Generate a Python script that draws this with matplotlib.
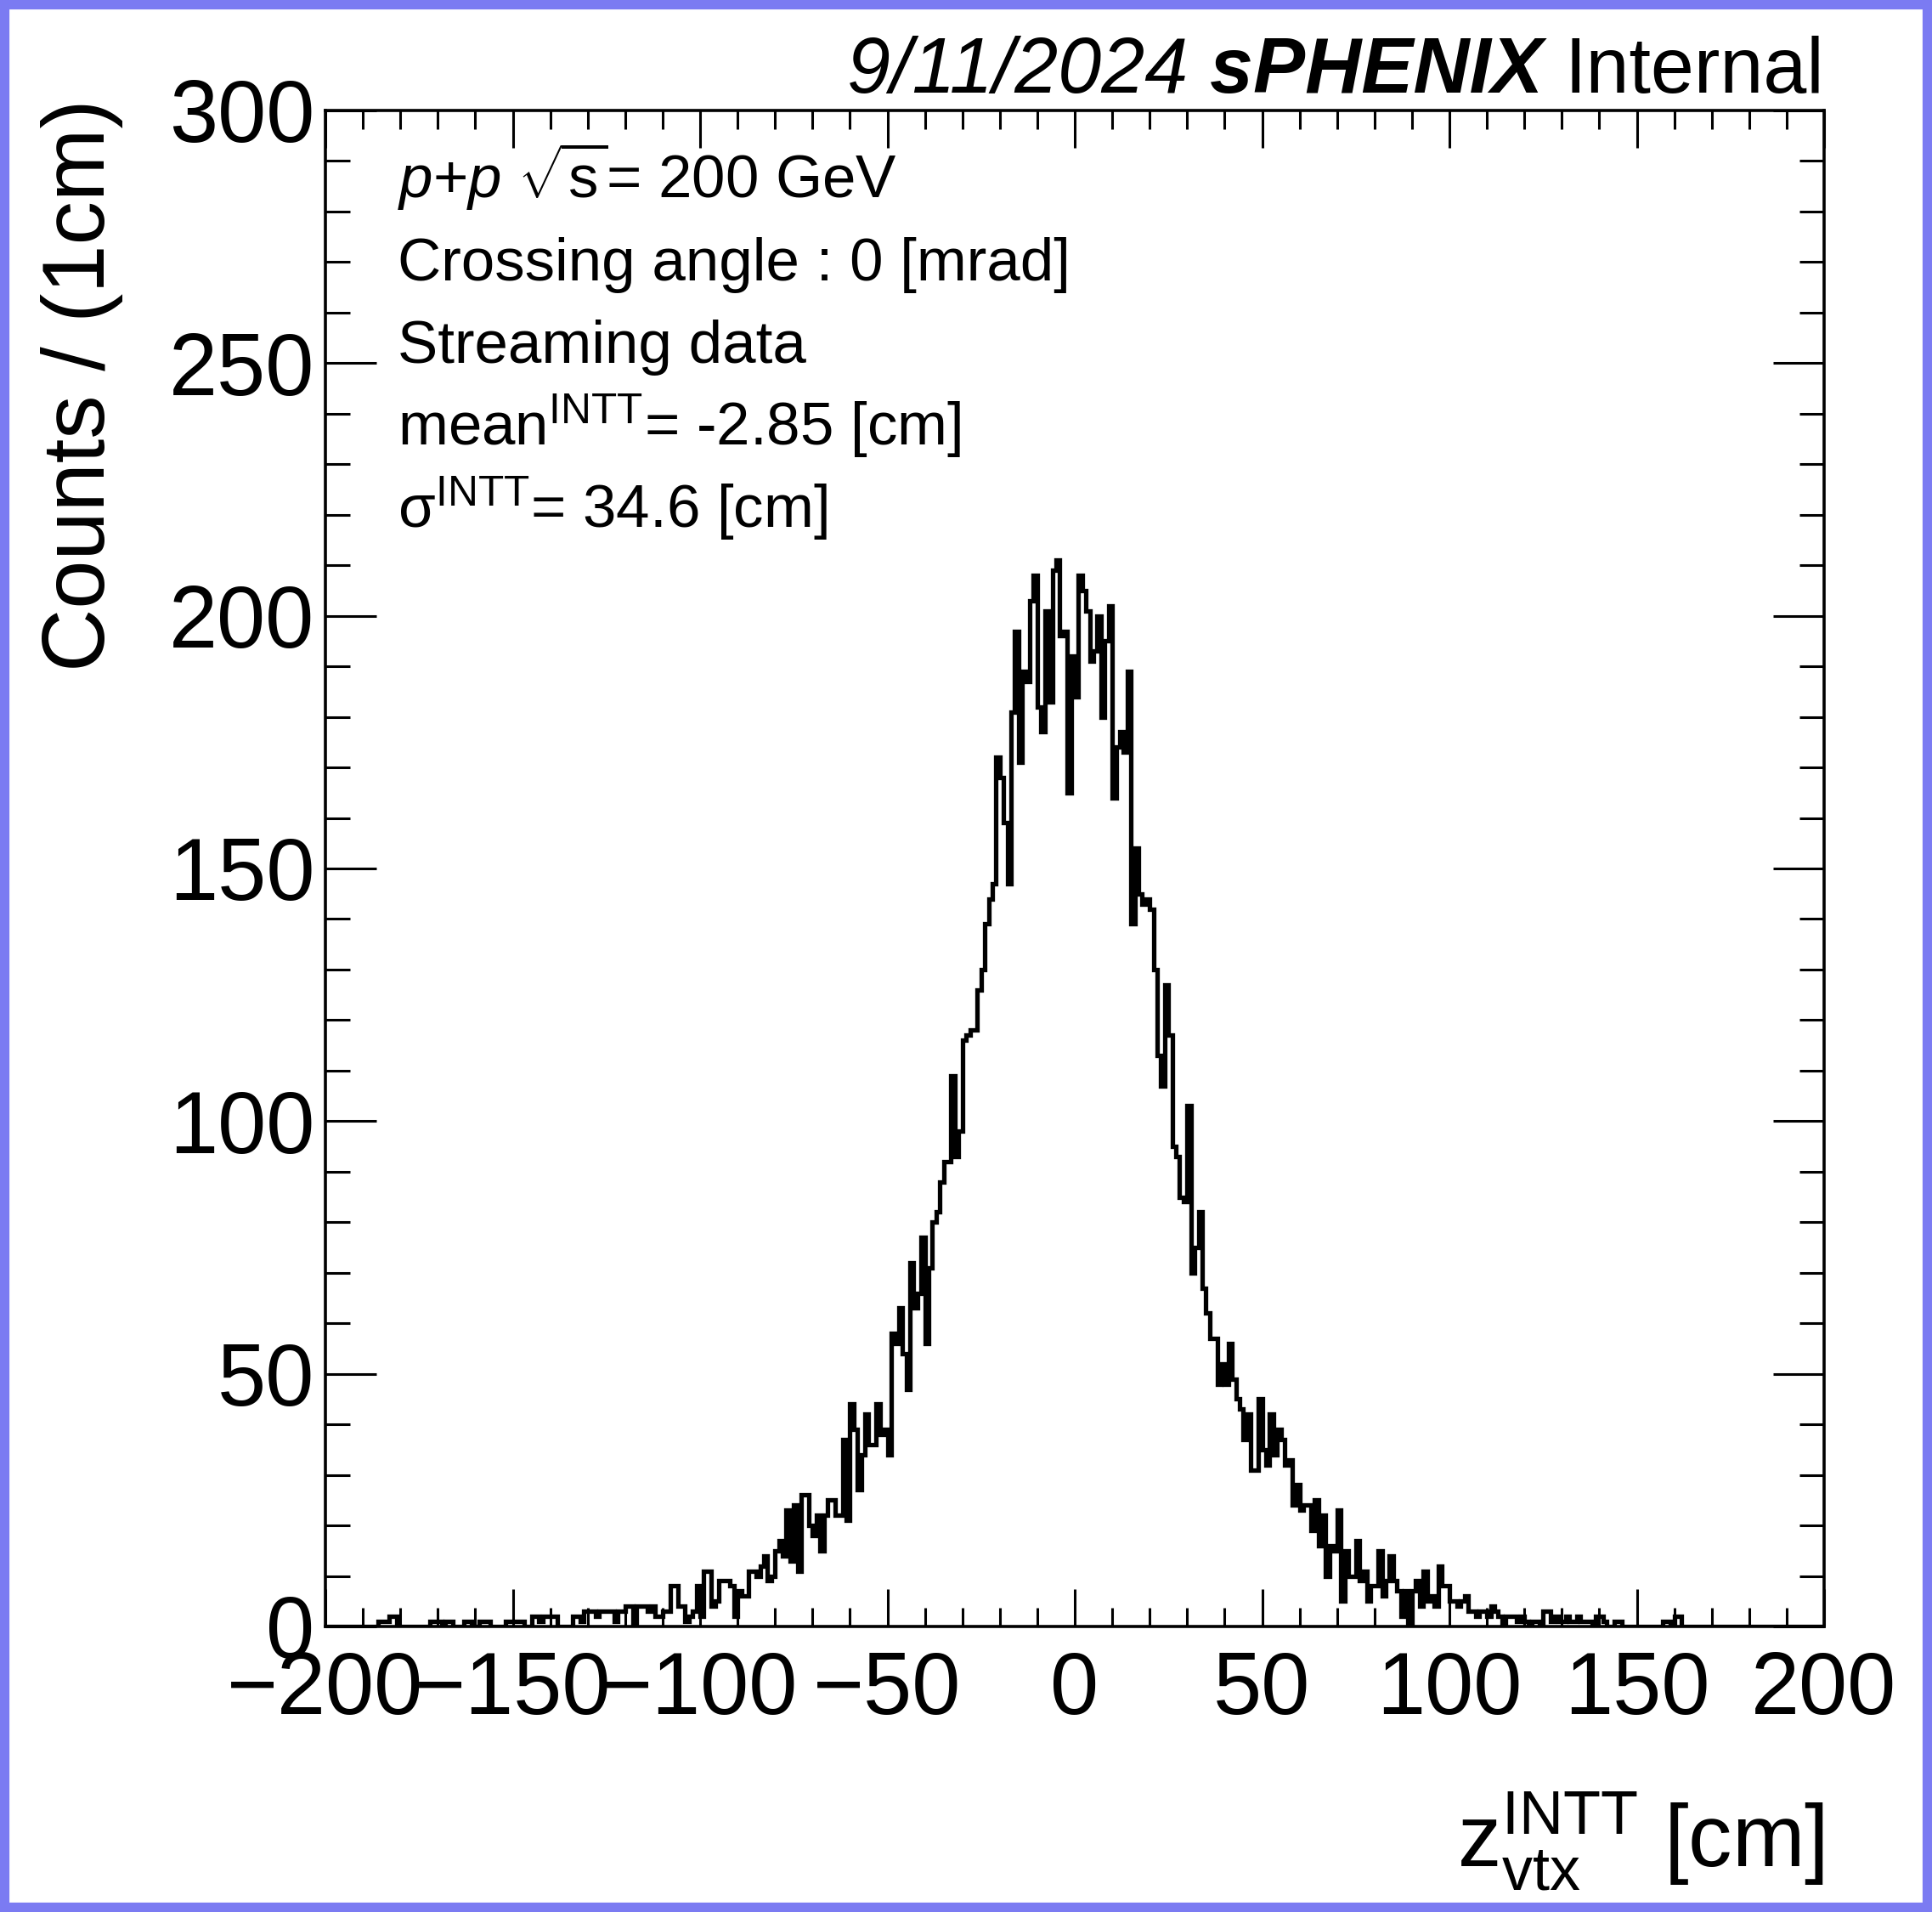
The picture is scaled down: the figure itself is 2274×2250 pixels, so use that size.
import numpy as np
import matplotlib
matplotlib.use("Agg")
import matplotlib.pyplot as plt
from matplotlib.patches import Rectangle
from matplotlib.ticker import MultipleLocator

# INTT z-vertex distribution, 1 cm bins from -200 to 200 cm
# counts, split in 50 cm chunks
counts_m200 = [0, 0, 0, 0, 0, 0, 0, 0, 0, 0,
               0, 0, 0, 0, 1, 1, 1, 2, 2, 0,
               0, 0, 0, 0, 0, 0, 0, 0, 1, 1,
               1, 0, 1, 1, 0, 0, 0, 1, 1, 0,
               0, 1, 1, 1, 0, 0, 0, 0, 1, 1]
counts_m150 = [1, 1, 1, 0, 0, 2, 2, 1, 2, 2,
               2, 2, 0, 0, 0, 0, 2, 2, 1, 3,
               3, 3, 2, 3, 3, 3, 3, 1, 3, 3,
               4, 4, 0, 4, 4, 4, 3, 4, 2, 2,
               3, 3, 8, 8, 4, 4, 1, 2, 3, 8]
counts_m100 = [2, 11, 11, 4, 5, 9, 9, 9, 8, 2,
               7, 6, 6, 11, 11, 10, 12, 14, 9, 10,
               15, 17, 14, 23, 13, 24, 11, 26, 26, 20,
               18, 22, 15, 22, 25, 25, 22, 22, 37, 21,
               44, 39, 27, 34, 42, 36, 36, 44, 38, 39]
counts_m50 = [34, 58, 56, 63, 54, 47, 72, 63, 66, 77,
              56, 71, 80, 82, 88, 92, 92, 109, 93, 98,
              116, 117, 118, 118, 126, 130, 139, 144, 147, 172,
              168, 159, 147, 181, 197, 171, 189, 187, 203, 208,
              182, 177, 201, 183, 209, 211, 196, 197, 165, 192]
counts_p0 = [184, 208, 205, 201, 191, 193, 200, 180, 195, 202,
             164, 174, 177, 173, 189, 139, 154, 145, 143, 144,
             142, 130, 113, 107, 127, 117, 95, 93, 85, 84,
             103, 70, 75, 82, 67, 62, 57, 57, 48, 52,
             48, 56, 49, 45, 43, 37, 42, 31, 31, 45]
counts_p50 = [35, 32, 42, 34, 39, 37, 32, 33, 24, 28,
              23, 24, 24, 19, 25, 16, 22, 10, 16, 15,
              23, 5, 15, 10, 10, 17, 9, 11, 5, 8,
              8, 15, 6, 9, 14, 9, 7, 2, 7, 0,
              7, 9, 4, 11, 5, 6, 4, 12, 8, 8]
counts_p100 = [5, 5, 4, 5, 6, 3, 3, 2, 3, 3,
               2, 4, 3, 2, 0, 2, 2, 2, 1, 2,
               1, 0, 1, 1, 0, 3, 3, 1, 2, 1,
               1, 2, 1, 1, 2, 1, 1, 1, 0, 2,
               2, 1, 0, 0, 1, 1, 0, 0, 0, 0]
counts_p150 = [0, 0, 0, 0, 0, 0, 0, 1, 1, 0,
               2, 2, 0, 0, 0, 0, 0, 0, 0, 0,
               0, 0, 0, 0, 0, 0, 0, 0, 0, 0,
               0, 0, 0, 0, 0, 0, 0, 0, 0, 0,
               0, 0, 0, 0, 0, 0, 0, 0, 0, 0]

z_min, z_max = -200, 200
info_lines = [r"$\mathit{p}$+$\mathit{p}$ $\sqrt{\mathrm{s}}$= 200 GeV",
              "Crossing angle : 0 [mrad]",
              "Streaming data",
              r"mean$^{\mathrm{INTT}}$= -2.85 [cm]",
              r"$\mathrm{\sigma}^{\mathrm{INTT}}$= 34.6 [cm]"]
# header pieces, drawn right to left: (text, style, weight)
header = [("Internal", "normal", "normal"),
          ("sPHENIX ", "italic", "bold"),
          ("9/11/2024 ", "italic", "normal")]

counts = np.array(counts_m200 + counts_m150 + counts_m100 + counts_m50
                  + counts_p0 + counts_p50 + counts_p100 + counts_p150)
edges = np.arange(z_min, z_max + 1, 1)

plt.rcParams['font.family'] = ['Liberation Sans', 'DejaVu Sans']
plt.rcParams['mathtext.fontset'] = 'custom'
plt.rcParams['mathtext.rm'] = 'Liberation Sans'
plt.rcParams['mathtext.it'] = 'Liberation Sans:italic'
plt.rcParams['mathtext.bf'] = 'Liberation Sans:bold'
plt.rcParams['mathtext.sf'] = 'Liberation Sans'

W, H = 2274, 2250
fig = plt.figure(figsize=(W / 100, H / 100), dpi=100)
ax = fig.add_axes([383 / W, 1 - 1914 / H, (2147 - 383) / W, (1914 - 130) / H])

ax.stairs(counts, edges, color="black", linewidth=3.8)

ax.set_xlim(z_min, z_max)
ax.set_ylim(0, 300)
ax.xaxis.set_major_locator(MultipleLocator(50))
ax.xaxis.set_minor_locator(MultipleLocator(10))
ax.yaxis.set_major_locator(MultipleLocator(50))
ax.yaxis.set_minor_locator(MultipleLocator(10))

# ROOT style: ticks inside on all four sides
ax.tick_params(which="both", direction="in", top=True, right=True, width=2.2, labelsize=74)
ax.tick_params(axis="x", which="major", length=32, pad=20)
ax.tick_params(axis="x", which="minor", length=16)
ax.tick_params(axis="y", which="major", length=43, pad=9)
ax.tick_params(axis="y", which="minor", length=21)
for sp in ax.spines.values():
    sp.set_linewidth(2.6)

# info text block
for i, line in enumerate(info_lines):
    ax.text(-180.7, 282.7 - i * 16.35, line, fontsize=51, ha="left", va="baseline")

# header, right aligned to the frame, pieces placed one after another
fig.canvas.draw()
renderer = fig.canvas.get_renderer()
x_right = 2147 / W
for txt, style, weight in header:
    t = fig.text(x_right, 1 - 109 / H, txt, fontsize=66, style=style,
                 weight=weight, ha="right", va="baseline")
    bb = t.get_window_extent(renderer)
    x_right = bb.x0 / W

# axis titles
fig.text(2147 / W, 1 - 2197 / H, r"$\mathrm{z}_{\mathrm{vtx}}^{\mathrm{INTT}}$ [cm]",
         fontsize=74, ha="right", va="baseline")
fig.text(97 / W, 1 - 116 / H, "Counts / (1cm)", fontsize=74,
         rotation=90, ha="center", va="top")

# blue frame around the picture
fig.patches.append(Rectangle((0, 0), 1, 1, transform=fig.transFigure, fill=False,
                             edgecolor="#7b7bf2", linewidth=16))

fig.savefig("out.png", dpi=100)
